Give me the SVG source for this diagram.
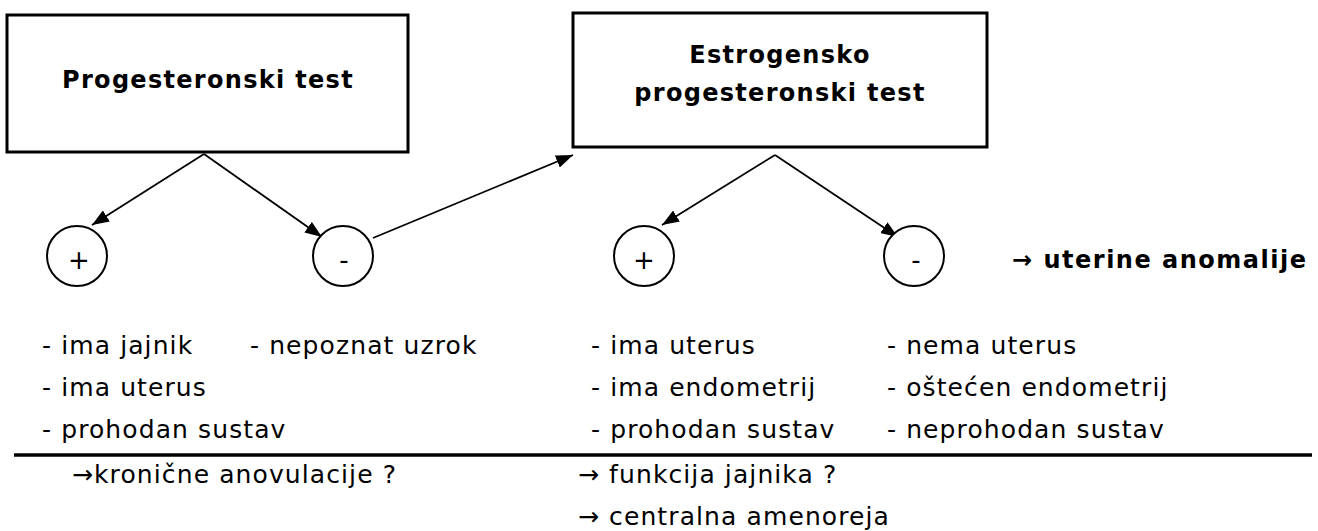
<svg xmlns="http://www.w3.org/2000/svg" width="1318" height="531" viewBox="0 0 1318 531">
<defs>
<marker id="ah" viewBox="0 0 17 13" refX="17" refY="6.5" markerWidth="17" markerHeight="13" markerUnits="userSpaceOnUse" orient="auto">
<path d="M0,0 L17,6.5 L0,13 Z" fill="#000"/>
</marker>
<style>
.box{fill:#fff;stroke:#000;stroke-width:3}
.circ{fill:#fff;stroke:#000;stroke-width:2}
.edge{stroke:#000;stroke-width:1.8;fill:none}
.bt{font-family:'DejaVu Sans','Liberation Sans',sans-serif;font-weight:bold;font-size:24px;letter-spacing:1.3px;fill:#000}
.t{font-family:'DejaVu Sans','Liberation Sans',sans-serif;font-size:25px;letter-spacing:1.1px;fill:#000}
.sg{font-family:'DejaVu Sans','Liberation Sans',sans-serif;font-size:26px;fill:#000;text-anchor:middle}
</style>
</defs>
<rect width="1318" height="531" fill="#fff"/>
<g id="connectors">
<line class="edge" x1="204" y1="154" x2="92" y2="225" marker-end="url(#ah)"/>
<line class="edge" x1="204" y1="154" x2="322" y2="237" marker-end="url(#ah)"/>
<line class="edge" x1="373" y1="238" x2="573" y2="155" marker-end="url(#ah)"/>
<line class="edge" x1="775" y1="155" x2="662" y2="225" marker-end="url(#ah)"/>
<line class="edge" x1="775" y1="155" x2="898" y2="237" marker-end="url(#ah)"/>
</g>
<g id="progesteronski">
<rect class="box" x="7" y="15" width="401" height="137"/>
<text class="bt" x="208" y="88" text-anchor="middle">Progesteronski test</text>
</g>
<g id="estrogensko">
<rect class="box" x="573" y="13" width="414" height="134"/>
<text class="bt" x="780" y="63" text-anchor="middle">Estrogensko</text>
<text class="bt" x="780" y="101" text-anchor="middle">progesteronski test</text>
</g>
<g id="plus1"><circle class="circ" cx="77" cy="256" r="30"/><text class="sg" x="79" y="269">+</text></g>
<g id="minus1"><circle class="circ" cx="343" cy="256" r="30"/><text class="sg" x="344" y="269">-</text></g>
<g id="plus2"><circle class="circ" cx="644" cy="256" r="30"/><text class="sg" x="644" y="269">+</text></g>
<g id="minus2"><circle class="circ" cx="914" cy="256" r="30"/><text class="sg" x="916" y="269">-</text></g>
<g id="uterine"><text class="bt" x="1012" y="268" style="letter-spacing:1.5px">→ uterine anomalije</text></g>
<g id="notes">
<text class="t" x="42" y="354">- ima jajnik</text>
<text class="t" x="250" y="354">- nepoznat uzrok</text>
<text class="t" x="42" y="396">- ima uterus</text>
<text class="t" x="42" y="438">- prohodan sustav</text>
<text class="t" x="591" y="354">- ima uterus</text>
<text class="t" x="591" y="396">- ima endometrij</text>
<text class="t" x="591" y="438">- prohodan sustav</text>
<text class="t" x="887" y="354">- nema uterus</text>
<text class="t" x="887" y="396">- oštećen endometrij</text>
<text class="t" x="887" y="438">- neprohodan sustav</text>
<line x1="14" y1="455" x2="1312" y2="455" stroke="#000" stroke-width="3.5"/>
<text class="t" x="72" y="483">→kronične anovulacije ?</text>
<text class="t" x="578" y="483">→ funkcija jajnika ?</text>
<text class="t" x="578" y="525">→ centralna amenoreja</text>
</g>
</svg>
